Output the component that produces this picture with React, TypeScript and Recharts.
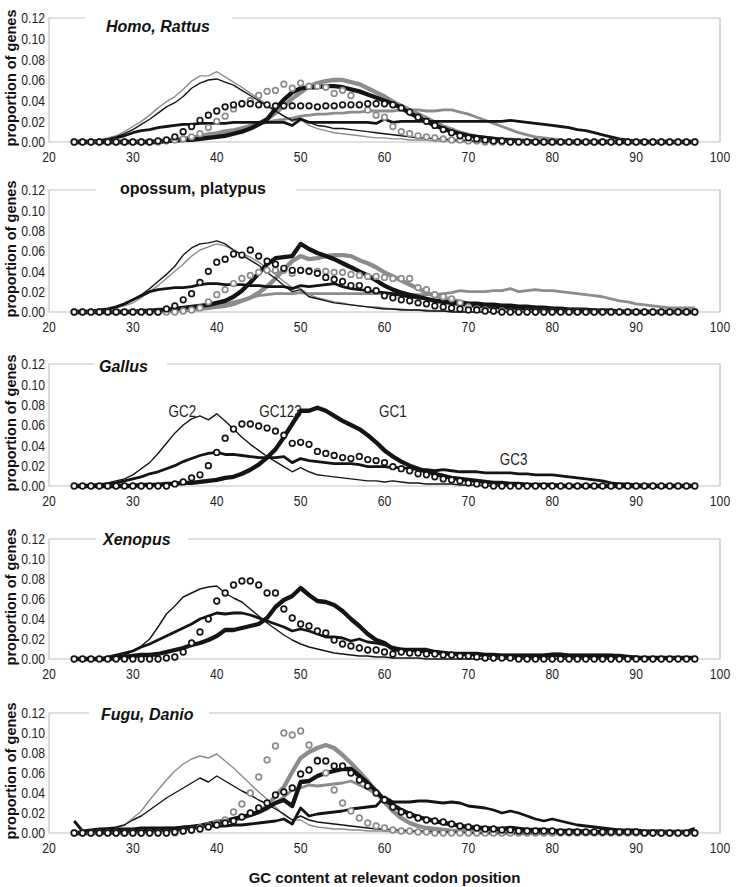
import { LineChart, Line, XAxis, YAxis, ReferenceArea, ReferenceDot } from 'recharts';

// GC content bins (percent) shared by every panel
const gcContent = [
  23, 24, 25, 26, 27, 28, 29,
  30, 31, 32, 33, 34, 35, 36, 37, 38, 39,
  40, 41, 42, 43, 44, 45, 46, 47, 48, 49,
  50, 51, 52, 53, 54, 55, 56, 57, 58, 59,
  60, 61, 62, 63, 64, 65, 66, 67, 68, 69,
  70, 71, 72, 73, 74, 75, 76, 77, 78, 79,
  80, 81, 82, 83, 84, 85, 86, 87, 88, 89,
  90, 91, 92, 93, 94, 95, 96, 97,
];

const xTicks = [20, 30, 40, 50, 60, 70, 80, 90, 100];
const yTicks = [0, 0.02, 0.04, 0.06, 0.08, 0.1, 0.12];

// proportion of genes, in thousandths, one value per GC bin

// Homo (black) / Rattus (grey)
const homoGC1 = [
  0, 0, 0, 0, 0, 0, 0,
  0, 0, 0, 0, 1, 1, 2, 2, 3, 4,
  5, 6, 8, 10, 13, 17, 22, 32, 41, 48,
  52, 53, 53, 54, 54, 53, 51, 49, 46, 43,
  40, 37, 33, 28, 24, 20, 16, 13, 10, 8,
  6, 5, 4, 3, 2, 2, 1, 1, 0, 0,
  0, 0, 0, 0, 0, 0, 0, 0, 0, 0,
  0, 0, 0, 0, 0, 0, 0, 0,
];
const homoGC2 = [
  0, 0, 1, 2, 3, 5, 8,
  12, 17, 22, 28, 34, 38, 44, 52, 57, 60,
  61, 58, 55, 50, 45, 40, 35, 30, 25, 21,
  23, 19, 16, 15, 13, 13, 12, 11, 10, 9,
  8, 7, 6, 5, 4, 4, 3, 3, 2, 2,
  1, 1, 1, 0, 0, 0, 0, 0, 0, 0,
  0, 0, 0, 0, 0, 0, 0, 0, 0, 0,
  0, 0, 0, 0, 0, 0, 0, 0,
];
const homoGC3 = [
  0, 0, 1, 1, 2, 4, 6,
  9, 11, 12, 14, 15, 16, 17, 17, 18, 18,
  18, 18, 19, 19, 19, 19, 19, 19, 19, 16,
  22, 19, 19, 19, 19, 19, 19, 19, 19, 18,
  22, 19, 20, 20, 20, 20, 20, 20, 20, 20,
  20, 20, 20, 20, 20, 21, 20, 19, 18, 17,
  16, 15, 14, 12, 11, 9, 7, 5, 3, 2,
  1, 1, 0, 0, 0, 0, 0, 0,
];
const homoGC123 = [
  0, 0, 0, 0, 0, 0, 0,
  0, 0, 0, 1, 2, 5, 10, 15, 21, 26,
  30, 34, 36, 37, 37, 36, 36, 35, 35, 35,
  35, 35, 34, 35, 35, 36, 36, 36, 37, 37,
  37, 36, 33, 29, 24, 20, 16, 12, 9, 6,
  4, 3, 2, 1, 1, 0, 0, 0, 0, 0,
  0, 0, 0, 0, 0, 0, 0, 0, 0, 0,
  0, 0, 0, 0, 0, 0, 0, 0,
];
const rattusGC1 = [
  0, 0, 0, 0, 0, 0, 0,
  0, 0, 0, 1, 1, 2, 2, 3, 4, 5,
  6, 8, 10, 12, 15, 18, 22, 28, 35, 42,
  48, 54, 57, 59, 60, 60, 58, 56, 52, 48,
  44, 39, 35, 31, 27, 23, 19, 15, 12, 9,
  7, 5, 4, 3, 2, 1, 1, 0, 0, 0,
  0, 0, 0, 0, 0, 0, 0, 0, 0, 0,
  0, 0, 0, 0, 0, 0, 0, 0,
];
const rattusGC2 = [
  2, 1, 1, 2, 4, 6, 10,
  15, 20, 26, 33, 39, 44, 51, 59, 64, 64,
  68, 63, 58, 53, 47, 42, 36, 31, 25, 20,
  22, 16, 13, 11, 9, 8, 7, 6, 5, 4,
  4, 3, 3, 2, 2, 2, 1, 1, 1, 0,
  0, 0, 0, 0, 0, 0, 0, 0, 0, 0,
  0, 0, 0, 0, 0, 0, 0, 0, 0, 0,
  0, 0, 0, 0, 0, 0, 0, 0,
];
const rattusGC3 = [
  0, 0, 0, 0, 0, 0, 0,
  0, 0, 1, 1, 2, 3, 4, 5, 6, 8,
  9, 11, 12, 14, 16, 17, 19, 21, 22, 23,
  25, 26, 27, 27, 28, 28, 29, 29, 30, 30,
  30, 30, 31, 31, 31, 30, 30, 31, 31, 29,
  27, 24, 21, 18, 15, 12, 9, 7, 5, 4,
  3, 2, 1, 1, 0, 0, 0, 0, 0, 0,
  0, 0, 0, 0, 0, 0, 0, 0,
];
const rattusGC123 = [
  0, 0, 0, 0, 0, 0, 0,
  0, 0, 0, 0, 1, 2, 3, 5, 8, 14,
  20, 25, 32, 37, 40, 45, 49, 50, 56, 52,
  57, 54, 54, 53, 47, 50, 45, 36, 31, 26,
  24, 15, 10, 8, 6, 5, 4, 3, 2, 2,
  1, 1, 0, 0, 0, 0, 0, 0, 0, 0,
  0, 0, 0, 0, 0, 0, 0, 0, 0, 0,
  0, 0, 0, 0, 0, 0, 0, 0,
];

// opossum (black) / platypus (grey)
const opossumGC1 = [
  0, 0, 0, 0, 0, 0, 0,
  0, 1, 1, 2, 2, 3, 4, 5, 6, 7,
  9, 11, 15, 21, 29, 38, 47, 53, 54, 55,
  67, 62, 58, 55, 52, 48, 44, 40, 36, 31,
  26, 22, 19, 17, 15, 13, 11, 10, 9, 8,
  7, 6, 6, 5, 5, 5, 4, 4, 4, 3,
  3, 2, 2, 2, 1, 1, 1, 1, 0, 0,
  0, 0, 0, 0, 0, 0, 0, 0,
];
const opossumGC2 = [
  0, 0, 1, 2, 3, 5, 8,
  12, 17, 23, 30, 37, 45, 56, 63, 67, 68,
  70, 67, 61, 56, 51, 46, 39, 33, 26, 20,
  22, 15, 13, 11, 9, 8, 7, 6, 5, 4,
  3, 3, 2, 2, 2, 1, 1, 1, 0, 0,
  0, 0, 0, 0, 0, 0, 0, 0, 0, 0,
  0, 0, 0, 0, 0, 0, 0, 0, 0, 0,
  0, 0, 0, 0, 0, 0, 0, 0,
];
const opossumGC3 = [
  0, 0, 1, 2, 3, 5, 8,
  12, 16, 20, 22, 23, 24, 24, 25, 27, 28,
  28, 27, 27, 27, 26, 26, 25, 25, 25, 23,
  26, 25, 26, 27, 28, 25, 23, 22, 21, 20,
  19, 18, 16, 15, 14, 13, 12, 11, 10, 10,
  9, 9, 8, 8, 7, 7, 6, 6, 5, 5,
  4, 4, 3, 3, 3, 2, 2, 2, 1, 1,
  1, 0, 0, 0, 0, 0, 0, 0,
];
const opossumGC123 = [
  0, 0, 0, 0, 0, 0, 0,
  0, 0, 0, 0, 3, 6, 12, 18, 29, 40,
  49, 52, 57, 56, 61, 55, 50, 47, 43, 41,
  41, 40, 38, 34, 32, 30, 26, 26, 22, 21,
  16, 14, 12, 11, 9, 8, 6, 5, 4, 3,
  2, 2, 1, 1, 0, 0, 0, 0, 0, 0,
  0, 0, 0, 0, 0, 0, 0, 0, 0, 0,
  0, 0, 0, 0, 0, 0, 0, 0,
];
const platypusGC1 = [
  0, 0, 0, 0, 0, 0, 0,
  0, 0, 0, 0, 1, 1, 2, 2, 3, 4,
  5, 6, 8, 11, 14, 19, 25, 33, 42, 50,
  55, 52, 53, 55, 56, 56, 55, 51, 48, 44,
  39, 35, 31, 27, 23, 19, 16, 14, 12, 10,
  8, 7, 6, 5, 4, 3, 3, 2, 2, 1,
  1, 0, 0, 0, 0, 0, 0, 0, 0, 0,
  0, 0, 0, 0, 0, 0, 0, 0,
];
const platypusGC2 = [
  0, 0, 1, 1, 2, 4, 6,
  9, 14, 20, 26, 33, 40, 47, 55, 61, 64,
  67, 65, 61, 57, 54, 49, 43, 37, 30, 24,
  23, 17, 14, 12, 10, 9, 7, 6, 5, 5,
  4, 3, 3, 2, 2, 2, 1, 1, 1, 0,
  0, 0, 0, 0, 0, 0, 0, 0, 0, 0,
  0, 0, 0, 0, 0, 0, 0, 0, 0, 0,
  0, 0, 0, 0, 0, 0, 0, 0,
];
const platypusGC3 = [
  0, 0, 0, 0, 0, 0, 0,
  0, 0, 0, 0, 1, 1, 2, 3, 4, 5,
  6, 8, 10, 12, 14, 16, 17, 18, 18, 18,
  19, 18, 18, 18, 18, 18, 18, 18, 18, 18,
  18, 17, 17, 17, 17, 17, 17, 18, 19, 21,
  20, 20, 20, 21, 21, 23, 20, 21, 22, 21,
  21, 20, 19, 18, 17, 16, 15, 13, 11, 10,
  8, 7, 6, 5, 4, 4, 4, 4,
];
const platypusGC123 = [
  0, 0, 0, 0, 0, 0, 0,
  0, 0, 0, 0, 0, 0, 1, 2, 4, 10,
  17, 22, 28, 33, 36, 39, 41, 41, 41, 38,
  41, 41, 40, 40, 39, 39, 37, 36, 35, 35,
  34, 33, 33, 33, 24, 22, 17, 15, 13, 9,
  5, 3, 2, 1, 1, 0, 0, 0, 0, 0,
  0, 0, 0, 0, 0, 0, 0, 0, 0, 0,
  0, 0, 0, 0, 0, 0, 0, 0,
];

// Gallus
const gallusGC1 = [
  0, 0, 0, 0, 0, 0, 0,
  0, 1, 1, 1, 2, 2, 3, 3, 4, 5,
  6, 8, 9, 12, 16, 21, 28, 36, 48, 61,
  74, 74, 77, 74, 69, 64, 60, 56, 50, 43,
  35, 29, 24, 20, 17, 14, 12, 10, 8, 7,
  6, 5, 4, 3, 3, 2, 2, 1, 1, 1,
  1, 0, 0, 0, 0, 0, 0, 0, 0, 0,
  0, 0, 0, 0, 0, 0, 0, 0,
];
const gallusGC2 = [
  0, 0, 1, 2, 3, 5, 7,
  11, 17, 23, 32, 42, 52, 60, 66, 69, 65,
  71, 64, 56, 48, 41, 35, 29, 24, 19, 14,
  18, 14, 11, 10, 9, 8, 7, 6, 5, 5,
  4, 5, 4, 3, 3, 2, 2, 2, 2, 1,
  1, 1, 0, 0, 0, 0, 0, 0, 0, 0,
  0, 0, 0, 0, 0, 0, 0, 0, 0, 0,
  0, 0, 0, 0, 0, 0, 0, 0,
];
const gallusGC3 = [
  0, 0, 1, 1, 2, 3, 5,
  7, 9, 12, 14, 17, 20, 24, 27, 30, 32,
  33, 31, 31, 30, 29, 28, 28, 28, 29, 23,
  27, 25, 24, 23, 22, 22, 22, 21, 19, 19,
  19, 18, 18, 17, 16, 16, 15, 16, 15, 14,
  14, 14, 13, 13, 13, 13, 12, 12, 11, 11,
  11, 10, 9, 8, 7, 6, 5, 3, 2, 2,
  1, 1, 1, 0, 0, 0, 0, 0,
];
const gallusGC123 = [
  0, 0, 0, 0, 0, 0, 0,
  0, 0, 0, 0, 0, 2, 4, 8, 11, 20,
  33, 47, 56, 61, 61, 59, 57, 54, 50, 42,
  43, 41, 34, 32, 30, 28, 27, 29, 26, 25,
  23, 19, 17, 15, 12, 11, 9, 7, 6, 5,
  3, 2, 1, 0, 0, 0, 0, 0, 0, 0,
  0, 0, 0, 0, 0, 0, 0, 0, 0, 0,
  0, 0, 0, 0, 0, 0, 0, 0,
];

// Xenopus
const xenopusGC1 = [
  0, 0, 0, 0, 0, 1, 2,
  3, 4, 4, 5, 7, 9, 11, 14, 16, 19,
  23, 29, 29, 31, 33, 35, 41, 52, 59, 63,
  71, 64, 58, 57, 54, 48, 40, 33, 25, 19,
  16, 10, 9, 9, 9, 9, 7, 6, 5, 5,
  5, 5, 4, 4, 3, 3, 3, 3, 3, 3,
  4, 4, 3, 3, 3, 3, 3, 3, 3, 2,
  1, 1, 1, 1, 1, 1, 1, 1,
];
const xenopusGC2 = [
  0, 0, 0, 0, 1, 2, 4,
  8, 13, 20, 32, 45, 53, 62, 66, 70, 72,
  73, 66, 61, 57, 50, 43, 36, 30, 24, 19,
  15, 12, 10, 8, 6, 5, 4, 3, 3, 2,
  2, 1, 1, 1, 1, 0, 0, 0, 0, 0,
  0, 0, 0, 0, 0, 0, 0, 0, 0, 0,
  0, 0, 0, 0, 0, 0, 0, 0, 0, 0,
  0, 0, 0, 0, 0, 0, 0, 0,
];
const xenopusGC3 = [
  0, 0, 0, 0, 2, 4, 6,
  8, 12, 15, 19, 23, 27, 31, 35, 40, 43,
  46, 45, 46, 46, 44, 41, 38, 35, 32, 28,
  30, 28, 25, 22, 22, 21, 18, 20, 17, 16,
  14, 12, 10, 9, 8, 7, 6, 6, 5, 5,
  5, 5, 4, 4, 4, 4, 4, 4, 4, 4,
  5, 5, 4, 4, 4, 4, 4, 4, 3, 2,
  2, 1, 1, 1, 1, 1, 1, 1,
];
const xenopusGC123 = [
  0, 0, 0, 0, 0, 0, 0,
  0, 0, 0, 0, 1, 2, 7, 16, 27, 40,
  58, 66, 74, 78, 78, 74, 66, 66, 50, 41,
  35, 33, 28, 26, 19, 15, 13, 11, 9, 9,
  7, 5, 7, 6, 6, 5, 5, 4, 4, 3,
  3, 2, 1, 1, 1, 1, 0, 0, 0, 0,
  0, 0, 0, 0, 0, 0, 0, 0, 0, 0,
  0, 0, 0, 0, 0, 0, 0, 0,
];

// Fugu (black) / Danio (grey)
const fuguGC1 = [
  0, 0, 1, 1, 1, 1, 2,
  2, 2, 3, 3, 4, 4, 5, 6, 7, 9,
  10, 12, 14, 16, 18, 21, 25, 30, 33, 27,
  51, 52, 57, 60, 62, 64, 64, 57, 50, 42,
  33, 28, 23, 19, 16, 14, 12, 10, 9, 7,
  6, 5, 5, 4, 4, 5, 4, 3, 3, 3,
  2, 2, 2, 2, 1, 1, 1, 1, 1, 1,
  1, 1, 1, 1, 1, 1, 1, 4,
];
const fuguGC2 = [
  0, 1, 3, 4, 5, 6, 8,
  13, 17, 23, 29, 35, 40, 45, 50, 55, 51,
  57, 52, 47, 42, 38, 33, 29, 24, 19, 13,
  17, 13, 11, 10, 9, 8, 7, 6, 5, 4,
  4, 3, 3, 2, 2, 2, 1, 1, 1, 1,
  0, 0, 0, 0, 0, 0, 0, 0, 0, 0,
  0, 0, 0, 0, 0, 0, 0, 0, 0, 0,
  0, 0, 0, 0, 0, 0, 0, 0,
];
const fuguGC3 = [
  12, 2, 3, 4, 4, 4, 4,
  4, 5, 5, 5, 5, 5, 6, 6, 6, 7,
  7, 7, 8, 8, 9, 10, 11, 12, 14, 9,
  25, 17, 19, 20, 21, 22, 24, 25, 26, 27,
  36, 31, 31, 31, 32, 32, 31, 30, 31, 30,
  27, 26, 25, 23, 20, 22, 20, 17, 14, 12,
  14, 12, 10, 8, 7, 6, 5, 4, 3, 3,
  3, 2, 2, 2, 1, 1, 1, 4,
];
const fuguGC123 = [
  0, 0, 0, 0, 0, 0, 0,
  0, 0, 0, 0, 0, 1, 2, 3, 4, 6,
  8, 10, 12, 16, 20, 25, 30, 38, 41, 45,
  59, 63, 72, 72, 67, 67, 60, 53, 47, 40,
  33, 26, 21, 18, 15, 13, 12, 11, 9, 7,
  6, 5, 4, 4, 3, 3, 2, 2, 2, 2,
  2, 1, 1, 1, 1, 1, 1, 1, 1, 1,
  1, 0, 0, 0, 0, 0, 0, 0,
];
const danioGC1 = [
  0, 0, 0, 0, 0, 0, 0,
  1, 1, 1, 2, 2, 3, 4, 5, 6, 8,
  10, 11, 13, 15, 18, 21, 27, 37, 46, 61,
  75, 81, 85, 88, 85, 78, 70, 61, 52, 41,
  31, 22, 15, 10, 7, 5, 4, 3, 2, 2,
  1, 1, 0, 0, 0, 0, 0, 0, 0, 0,
  0, 0, 0, 0, 0, 0, 0, 0, 0, 0,
  0, 0, 0, 0, 0, 0, 0, 0,
];
const danioGC2 = [
  0, 1, 1, 2, 3, 5, 8,
  15, 22, 33, 43, 53, 62, 69, 74, 77, 75,
  79, 72, 65, 57, 49, 41, 34, 26, 18, 13,
  13, 8, 6, 5, 4, 4, 3, 3, 2, 2,
  2, 1, 1, 1, 1, 0, 0, 0, 0, 0,
  0, 0, 0, 0, 0, 0, 0, 0, 0, 0,
  0, 0, 0, 0, 0, 0, 0, 0, 0, 0,
  0, 0, 0, 0, 0, 0, 0, 0,
];
const danioGC3 = [
  0, 0, 0, 0, 0, 0, 0,
  0, 0, 1, 1, 2, 3, 4, 6, 8, 10,
  12, 13, 15, 17, 19, 22, 25, 30, 36, 43,
  45, 48, 47, 48, 49, 50, 52, 48, 44, 39,
  33, 27, 22, 18, 15, 13, 11, 10, 8, 7,
  6, 5, 4, 3, 3, 2, 2, 2, 1, 1,
  1, 0, 0, 0, 0, 0, 0, 0, 0, 0,
  0, 0, 0, 0, 0, 0, 0, 0,
];
const danioGC123 = [
  0, 0, 0, 0, 0, 0, 0,
  0, 0, 0, 0, 0, 0, 2, 3, 5, 7,
  10, 13, 21, 29, 40, 56, 73, 87, 100, 98,
  102, 88, 73, 60, 43, 30, 22, 15, 10, 7,
  5, 3, 2, 2, 1, 1, 0, 0, 0, 0,
  0, 0, 0, 0, 0, 0, 0, 0, 0, 0,
  0, 0, 0, 0, 0, 0, 0, 0, 0, 0,
  0, 0, 0, 0, 0, 0, 0, 0,
];

// curve labels drawn inside the Gallus panel
const gallusCurveLabels = [
  { text: 'GC2', gc: 35.9, value: 0.0735 },
  { text: 'GC123', gc: 47.6, value: 0.0735 },
  { text: 'GC1', gc: 61.0, value: 0.0735 },
  { text: 'GC3', gc: 75.4, value: 0.026 },
];

const BLACK = '#141414';
const GREY = '#8c8c8c';
const SANS = "'Liberation Sans', Arial, Helvetica, sans-serif";
// no narrow face is installed, so squeeze the regular one horizontally
const SQUEEZE = 0.84;

type Kind = 'thick' | 'medium' | 'thin' | 'circle';

interface SeriesDef {
  key: string;
  values: number[];
  color: string;
  kind: Kind;
}

interface PanelDef {
  title: string;
  italic: boolean;
  plotTop: number;
  plotBottom: number;
  titleLeft: number;
  titleWidth: number;
  titleIndent: number;
  titleY: number;
  series: SeriesDef[];
  curveLabels?: typeof gallusCurveLabels;
}

const widths: Record<Kind, number> = { thick: 4.3, medium: 2.8, thin: 1.4, circle: 0 };

const panels: PanelDef[] = [
  {
    title: 'Homo, Rattus',
    italic: true,
    plotTop: 18,
    plotBottom: 142,
    titleLeft: 85,
    titleWidth: 147,
    titleIndent: 21,
    titleY: 27,
    series: [
      { key: 'ratGC3', values: rattusGC3, color: GREY, kind: 'medium' },
      { key: 'ratGC2', values: rattusGC2, color: GREY, kind: 'thin' },
      { key: 'ratGC1', values: rattusGC1, color: GREY, kind: 'thick' },
      { key: 'homoGC3', values: homoGC3, color: BLACK, kind: 'medium' },
      { key: 'homoGC2', values: homoGC2, color: BLACK, kind: 'thin' },
      { key: 'homoGC1', values: homoGC1, color: BLACK, kind: 'thick' },
      { key: 'ratGC123', values: rattusGC123, color: GREY, kind: 'circle' },
      { key: 'homoGC123', values: homoGC123, color: BLACK, kind: 'circle' },
    ],
  },
  {
    title: 'opossum, platypus',
    italic: false,
    plotTop: 190,
    plotBottom: 312,
    titleLeft: 96,
    titleWidth: 200,
    titleIndent: 24,
    titleY: 189,
    series: [
      { key: 'plaGC3', values: platypusGC3, color: GREY, kind: 'medium' },
      { key: 'plaGC2', values: platypusGC2, color: GREY, kind: 'thin' },
      { key: 'plaGC1', values: platypusGC1, color: GREY, kind: 'thick' },
      { key: 'opoGC3', values: opossumGC3, color: BLACK, kind: 'medium' },
      { key: 'opoGC2', values: opossumGC2, color: BLACK, kind: 'thin' },
      { key: 'opoGC1', values: opossumGC1, color: BLACK, kind: 'thick' },
      { key: 'plaGC123', values: platypusGC123, color: GREY, kind: 'circle' },
      { key: 'opoGC123', values: opossumGC123, color: BLACK, kind: 'circle' },
    ],
  },
  {
    title: 'Gallus',
    italic: true,
    plotTop: 364,
    plotBottom: 486,
    titleLeft: 94,
    titleWidth: 73,
    titleIndent: 5,
    titleY: 367,
    series: [
      { key: 'galGC3', values: gallusGC3, color: BLACK, kind: 'medium' },
      { key: 'galGC2', values: gallusGC2, color: BLACK, kind: 'thin' },
      { key: 'galGC1', values: gallusGC1, color: BLACK, kind: 'thick' },
      { key: 'galGC123', values: gallusGC123, color: BLACK, kind: 'circle' },
    ],
    curveLabels: gallusCurveLabels,
  },
  {
    title: 'Xenopus',
    italic: true,
    plotTop: 539,
    plotBottom: 659,
    titleLeft: 96,
    titleWidth: 92,
    titleIndent: 7,
    titleY: 540,
    series: [
      { key: 'xenGC3', values: xenopusGC3, color: BLACK, kind: 'medium' },
      { key: 'xenGC2', values: xenopusGC2, color: BLACK, kind: 'thin' },
      { key: 'xenGC1', values: xenopusGC1, color: BLACK, kind: 'thick' },
      { key: 'xenGC123', values: xenopusGC123, color: BLACK, kind: 'circle' },
    ],
  },
  {
    title: 'Fugu, Danio',
    italic: true,
    plotTop: 713,
    plotBottom: 833,
    titleLeft: 89,
    titleWidth: 120,
    titleIndent: 12,
    titleY: 715,
    series: [
      { key: 'danGC3', values: danioGC3, color: GREY, kind: 'medium' },
      { key: 'danGC2', values: danioGC2, color: GREY, kind: 'thin' },
      { key: 'danGC1', values: danioGC1, color: GREY, kind: 'thick' },
      { key: 'fugGC3', values: fuguGC3, color: BLACK, kind: 'medium' },
      { key: 'fugGC2', values: fuguGC2, color: BLACK, kind: 'thin' },
      { key: 'fugGC1', values: fuguGC1, color: BLACK, kind: 'thick' },
      { key: 'danGC123', values: danioGC123, color: GREY, kind: 'circle' },
      { key: 'fugGC123', values: fuguGC123, color: BLACK, kind: 'circle' },
    ],
  },
];

const PAD_TOP = 10;
const AXIS_H = 30;
const Y_AXIS_W = 49;
const RIGHT = 18;

function Squeezed({ x, y, text, size, anchor, dy }: { x: number; y: number; text: string; size: number; anchor: 'start' | 'middle' | 'end'; dy: string }) {
  return (
    <text
      transform={`translate(${x},${y}) scale(${SQUEEZE},1)`}
      textAnchor={anchor}
      dy={dy}
      fontSize={size}
      fontFamily={SANS}
      fill="#1e1e1e"
    >
      {text}
    </text>
  );
}

const XTick = (props: any) => (
  <Squeezed x={props.x} y={props.y} text={String(props.payload.value)} size={14.5} anchor="middle" dy="0.71em" />
);

const YTick = (props: any) => (
  <Squeezed x={props.x} y={props.y} text={Number(props.payload.value).toFixed(2)} size={14.5} anchor="end" dy="0.36em" />
);

function Panel({ def }: { def: PanelDef }) {
  const plotH = def.plotBottom - def.plotTop;
  const rows = gcContent.map((gc, i) => {
    const row: Record<string, number> = { gc };
    def.series.forEach((s) => {
      row[s.key] = s.values[i] / 1000;
    });
    return row;
  });
  const top = def.plotTop - PAD_TOP;

  return (
    <>
      <div style={{ position: 'absolute', left: 0, top, width: 738 }}>
        <LineChart
          width={738}
          height={plotH + PAD_TOP + AXIS_H}
          data={rows}
          margin={{ top: PAD_TOP, right: RIGHT, bottom: 0, left: 0 }}
        >
          <XAxis
            dataKey="gc"
            type="number"
            domain={[20, 100]}
            ticks={xTicks}
            interval={0}
            axisLine={false}
            tickLine={false}
            tickSize={0}
            tickMargin={10}
            height={AXIS_H}
            tick={XTick}
          />
          <YAxis
            type="number"
            domain={[0, 0.12]}
            ticks={yTicks}
            interval={0}
            axisLine={false}
            tickLine={false}
            tickSize={0}
            tickMargin={4}
            width={Y_AXIS_W}
            tick={YTick}
          />
          <ReferenceArea x1={20} x2={100} y1={0} y2={0.12} fill="none" stroke="#c2c2c2" strokeWidth={1.2} />
          {def.series.map((s) =>
            s.kind === 'circle' ? (
              <Line
                key={s.key}
                dataKey={s.key}
                stroke="none"
                dot={{ r: 2.8, stroke: s.color, strokeWidth: 1.7, fill: '#fff' }}
                activeDot={false}
                isAnimationActive={false}
              />
            ) : (
              <Line
                key={s.key}
                dataKey={s.key}
                stroke={s.color}
                strokeWidth={widths[s.kind]}
                strokeLinejoin="round"
                dot={false}
                activeDot={false}
                isAnimationActive={false}
              />
            ),
          )}
          {def.curveLabels?.map((l) => (
            <ReferenceDot
              key={l.text}
              x={l.gc}
              y={l.value}
              r={1}
              shape={(p: any) => (
                <Squeezed x={p.cx} y={p.cy} text={l.text} size={16} anchor="middle" dy="0.36em" />
              )}
            />
          ))}
        </LineChart>
      </div>
      <div
        style={{
          position: 'absolute',
          left: def.titleLeft,
          top: def.titleY - 10,
          width: def.titleWidth,
          height: 20,
          lineHeight: '20px',
          paddingLeft: def.titleIndent,
          boxSizing: 'border-box',
          background: '#fff',
          fontFamily: SANS,
          fontWeight: 'bold',
          fontStyle: def.italic ? 'italic' : 'normal',
          fontSize: 16,
          color: '#111',
          whiteSpace: 'nowrap',
        }}
      >
        {def.title}
      </div>
      <div
        style={{
          position: 'absolute',
          left: 11,
          top: (def.plotTop + def.plotBottom) / 2 - 2,
          transform: 'translate(-50%, -50%) rotate(-90deg)',
          fontFamily: SANS,
          fontWeight: 'bold',
          fontSize: 14.5,
          color: '#111',
          whiteSpace: 'nowrap',
        }}
      >
        proportion of genes
      </div>
    </>
  );
}

export default function App() {
  return (
    <div
      style={{
        position: 'absolute',
        left: 0,
        top: 0,
        width: 738,
        height: 887,
        background: '#fff',
        overflow: 'hidden',
      }}
    >
      {panels.map((p) => (
        <Panel key={p.title} def={p} />
      ))}
      <div
        style={{
          position: 'absolute',
          left: Y_AXIS_W,
          width: 738 - Y_AXIS_W - RIGHT,
          top: 869,
          textAlign: 'center',
          fontFamily: SANS,
          fontWeight: 'bold',
          fontSize: 15,
          color: '#111',
        }}
      >
        GC content at relevant codon position
      </div>
    </div>
  );
}
